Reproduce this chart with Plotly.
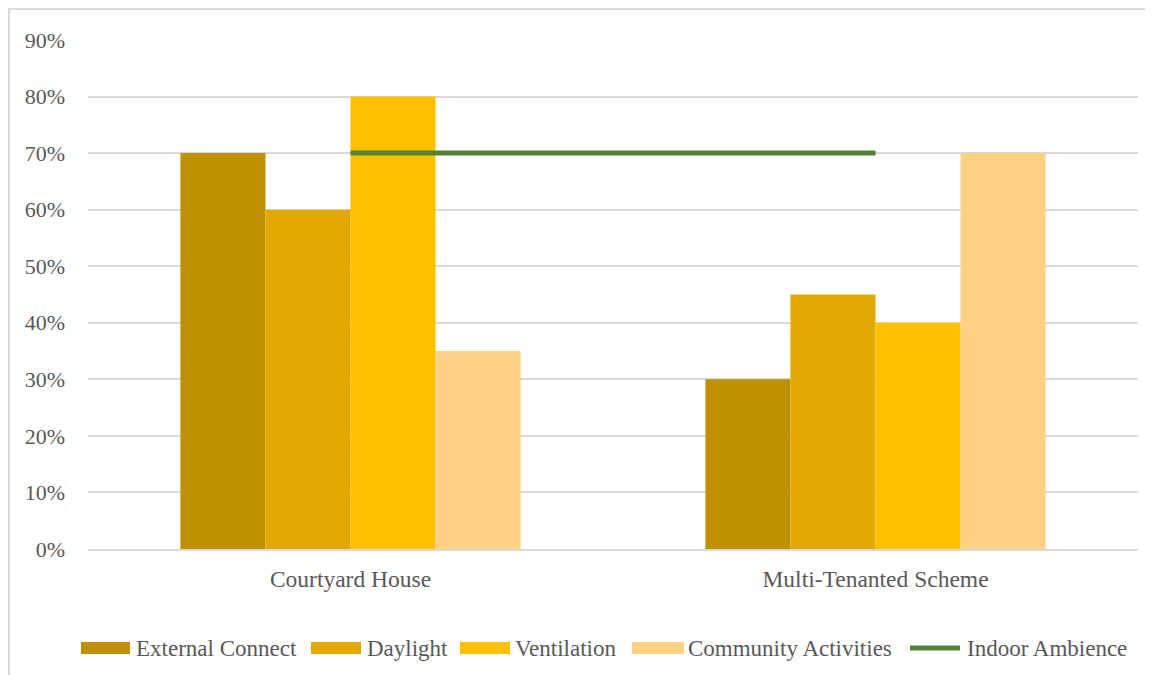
import plotly.graph_objects as go

categories = ["Courtyard House", "Multi-Tenanted Scheme"]
external_connect = [0.70, 0.30]
daylight = [0.60, 0.45]
ventilation = [0.80, 0.40]
community_activities = [0.35, 0.70]
indoor_ambience = [0.70, 0.70]
y_ticks = [0, 0.1, 0.2, 0.3, 0.4, 0.5, 0.6, 0.7, 0.8, 0.9]
y_tick_labels = ["0%", "10%", "20%", "30%", "40%", "50%", "60%", "70%", "80%", "90%"]

bar_names = ["External Connect", "Daylight", "Ventilation", "Community Activities"]
bar_values = [external_connect, daylight, ventilation, community_activities]
bar_colors = ["#BF9000", "#E2AA00", "#FFC000", "#FFD185"]
line_name = "Indoor Ambience"
line_color = "#548235"

# layout geometry (pixels in the figure)
W, H = 1145, 667
PL, PR, PT, PB = 80, 1130, 32, 541
PW, PH = PR - PL, PB - PT


def px_x(x):
    return (x - PL) / PW


def px_y(y):
    return (PB - y) / PH


fig = go.Figure()
for name, vals, col in zip(bar_names, bar_values, bar_colors):
    fig.add_trace(go.Bar(name=name, x=categories, y=vals, showlegend=False,
                         marker=dict(color=col, line=dict(width=0))))

fig.add_trace(go.Scatter(name=line_name, x=categories, y=indoor_ambience, mode="lines",
                         showlegend=False, line=dict(color=line_color, width=5)))

gray = "#595959"
tick_font = dict(family="Liberation Serif", size=22, color=gray)
cat_font = dict(family="Liberation Serif", size=23.5, color=gray)
leg_font = dict(family="Liberation Serif", size=23, color=gray)

# custom legend (wide swatches like the original)
legend_items = [
    # (marker x0, marker x1, text x) in figure pixels
    (73, 122, 128),
    (303, 353, 359),
    (452, 502, 507),
    (624, 676, 680),
    (900, 954, 959),
]
legend_y = 640
shapes = [dict(type="rect", xref="paper", yref="paper",
               x0=px_x(1), x1=px_x(W + 20), y0=px_y(H + 20), y1=px_y(1),
               line=dict(color="#D9D9D9", width=2), fillcolor="rgba(0,0,0,0)", layer="below")]
annotations = []
names_all = bar_names + [line_name]
colors_all = bar_colors + [line_color]
for i, ((mx0, mx1, tx), nm, col) in enumerate(zip(legend_items, names_all, colors_all)):
    if i < 4:
        shapes.append(dict(type="rect", xref="paper", yref="paper",
                           x0=px_x(mx0), x1=px_x(mx1), y0=px_y(legend_y + 6), y1=px_y(legend_y - 6),
                           line=dict(width=0), fillcolor=col))
    else:
        shapes.append(dict(type="line", xref="paper", yref="paper",
                           x0=px_x(mx0 + 2), x1=px_x(mx1 - 2), y0=px_y(legend_y), y1=px_y(legend_y),
                           line=dict(color=col, width=5)))
    annotations.append(dict(xref="paper", yref="paper", x=px_x(tx - 2), y=px_y(legend_y),
                            xanchor="left", yanchor="middle", text=nm, showarrow=False,
                            font=leg_font))

fig.update_layout(
    width=W, height=H,
    barmode="group", bargap=0.352, bargroupgap=0,
    paper_bgcolor="white", plot_bgcolor="white",
    margin=dict(l=PL, r=W - PR, t=PT, b=H - PB, autoexpand=False),
    showlegend=False,
    xaxis=dict(showgrid=False, showline=True, linecolor="#D9D9D9", linewidth=1.5,
               ticks="", ticklabelstandoff=8, tickfont=cat_font),
    yaxis=dict(range=[0, 0.9], tickvals=y_ticks, ticktext=y_tick_labels,
               showgrid=True, gridcolor="#D9D9D9", gridwidth=1.5, zeroline=False,
               showline=False, ticks="", ticklabelstandoff=22, tickfont=tick_font),
    shapes=shapes,
    annotations=annotations,
)

fig.write_html("out.html")
